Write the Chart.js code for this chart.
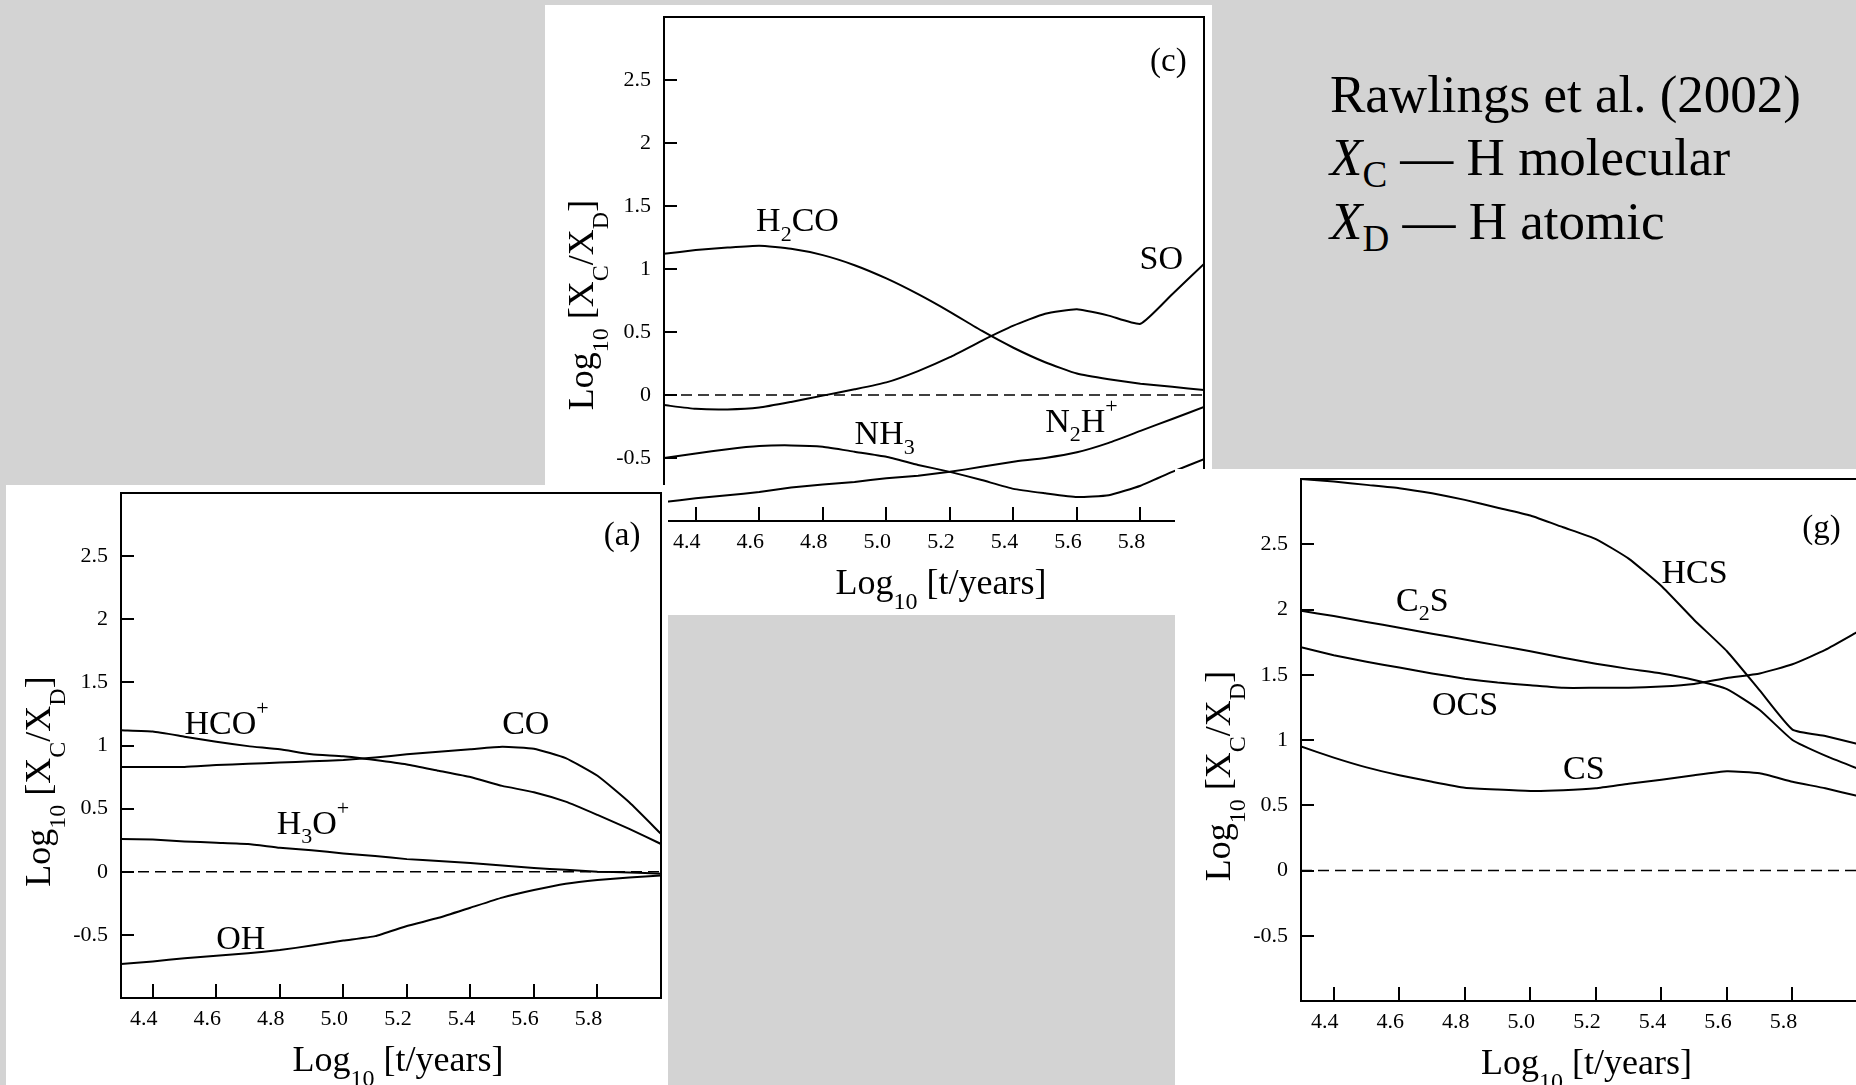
<!DOCTYPE html>
<html>
<head>
<meta charset="utf-8">
<script src="https://cdn.jsdelivr.net/npm/chart.js@4.4.1/dist/chart.umd.min.js"></script>
<style>
  html, body { margin: 0; padding: 0; }
  body {
    width: 1856px; height: 1085px; position: relative; overflow: hidden;
    background: #d3d3d3; font-family: "Liberation Serif", "Times New Roman", serif;
  }
  .panel { position: absolute; background: #fff; overflow: hidden; }
  .panel canvas { position: absolute; left: 0; top: 0; }
  #pc { left: 545px; top: 5px; width: 667px; height: 610px; z-index: 1; }
  #pa { left: 6px; top: 485px; width: 662px; height: 600px; z-index: 2; }
  #pg { left: 1175px; top: 469px; width: 681px; height: 616px; z-index: 2; }
  .note { position: absolute; left: 1330px; font-size: 53px; line-height: 53px; color: #000; white-space: nowrap; z-index: 3; }
  .note i { font-style: italic; }
  .note sub { font-size: 0.7em; vertical-align: baseline; position: relative; top: 0.32em; }
</style>
</head>
<body>
<div class="panel" id="pc"><canvas id="chart-c" width="667" height="610"></canvas></div>
<div class="panel" id="pa"><canvas id="chart-a" width="662" height="600"></canvas></div>
<div class="panel" id="pg"><canvas id="chart-g" width="700" height="616"></canvas></div>

<div class="note" style="top:68px">Rawlings et al. (2002)</div>
<div class="note" style="top:131px"><i>X</i><sub>C</sub> — H molecular</div>
<div class="note" style="top:195px"><i>X</i><sub>D</sub> — H atomic</div>

<script>
// Log10 of time in years, one point per 0.1 dex
const years = [4.3, 4.4, 4.5, 4.6, 4.7, 4.8, 4.9, 5.0, 5.1, 5.2, 5.3, 5.4, 5.5, 5.6, 5.7, 5.8, 5.9, 6.0];
const xTicks = [4.4, 4.6, 4.8, 5.0, 5.2, 5.4, 5.6, 5.8];
const yTicks = [-0.5, 0, 0.5, 1, 1.5, 2, 2.5];
const zeroX = [4.3, 6.0];
const zeroY = [0, 0];

// panel (a)
const hcoPlus = [1.12, 1.11, 1.07, 1.03, 0.995, 0.97, 0.93, 0.915, 0.885, 0.85, 0.80, 0.75, 0.68, 0.63, 0.555, 0.45, 0.34, 0.22];
const coA     = [0.83, 0.83, 0.83, 0.845, 0.855, 0.865, 0.875, 0.885, 0.905, 0.93, 0.95, 0.97, 0.99, 0.975, 0.90, 0.76, 0.55, 0.30];
const h3oPlus = [0.26, 0.255, 0.24, 0.23, 0.22, 0.19, 0.17, 0.145, 0.125, 0.10, 0.085, 0.07, 0.05, 0.03, 0.015, 0.0, -0.005, -0.015];
const ohA     = [-0.73, -0.71, -0.685, -0.665, -0.645, -0.62, -0.585, -0.545, -0.51, -0.43, -0.365, -0.285, -0.205, -0.145, -0.095, -0.065, -0.045, -0.03];

// panel (c)
const h2co    = [1.12, 1.15, 1.17, 1.185, 1.16, 1.11, 1.03, 0.925, 0.80, 0.66, 0.51, 0.375, 0.26, 0.17, 0.125, 0.09, 0.065, 0.04];
const soC     = [-0.08, -0.11, -0.115, -0.10, -0.055, -0.005, 0.045, 0.10, 0.19, 0.30, 0.43, 0.55, 0.645, 0.68, 0.63, 0.565, 0.80, 1.04];
const nh3     = [-0.50, -0.465, -0.43, -0.405, -0.40, -0.41, -0.45, -0.49, -0.555, -0.61, -0.675, -0.745, -0.78, -0.81, -0.795, -0.72, -0.61, -0.51];
const n2hPlus = [-0.85, -0.82, -0.795, -0.77, -0.735, -0.71, -0.69, -0.66, -0.64, -0.61, -0.57, -0.53, -0.50, -0.455, -0.38, -0.285, -0.19, -0.095];

// panel (g)
const hcs = [3.0, 2.98, 2.955, 2.93, 2.89, 2.84, 2.78, 2.72, 2.63, 2.54, 2.39, 2.18, 1.92, 1.68, 1.38, 1.08, 1.03, 0.97];
const c2s = [1.99, 1.95, 1.905, 1.86, 1.815, 1.77, 1.725, 1.68, 1.63, 1.585, 1.545, 1.51, 1.46, 1.39, 1.23, 1.00, 0.88, 0.78];
const ocs = [1.71, 1.65, 1.60, 1.555, 1.51, 1.47, 1.44, 1.42, 1.40, 1.40, 1.40, 1.41, 1.43, 1.475, 1.51, 1.58, 1.69, 1.83];
const csG = [0.95, 0.865, 0.79, 0.73, 0.68, 0.635, 0.62, 0.61, 0.615, 0.63, 0.665, 0.695, 0.73, 0.76, 0.745, 0.68, 0.63, 0.57];

const FONT = '"Liberation Serif", "Times New Roman", serif';
Chart.defaults.font.family = FONT;
Chart.defaults.color = '#000';

// "_x" / "_{xy}" = subscript, "^x" = superscript
function richParts(s) {
  const parts = [];
  let i = 0;
  while (i < s.length) {
    const c = s[i];
    if (c === '_' || c === '^') {
      let t;
      if (s[i + 1] === '{') { const j = s.indexOf('}', i); t = s.slice(i + 2, j); i = j + 1; }
      else { t = s[i + 1]; i += 2; }
      parts.push({ t, kind: c });
    } else {
      let j = i;
      while (j < s.length && s[j] !== '_' && s[j] !== '^') j++;
      parts.push({ t: s.slice(i, j), kind: '' });
      i = j;
    }
  }
  return parts;
}

function drawRich(ctx, s, x, y, size, align, subDy) {
  const small = Math.round(size * 0.66);
  const parts = richParts(s);
  const fontOf = (p) => `${p.kind ? small : size}px ${FONT}`;
  let w = 0;
  parts.forEach((p) => { ctx.font = fontOf(p); p.w = ctx.measureText(p.t).width; w += p.w; });
  let cx = align === 'center' ? x - w / 2 : x;
  ctx.textAlign = 'left';
  ctx.textBaseline = 'alphabetic';
  parts.forEach((p) => {
    ctx.font = fontOf(p);
    const dy = p.kind === '_' ? size * (subDy || 0.28) : p.kind === '^' ? -size * 0.55 : 0;
    ctx.fillText(p.t, cx, y + dy);
    cx += p.w;
  });
}

// box frame, inward ticks, axis titles, curve labels
const framePlugin = {
  id: 'frame',
  afterDatasetsDraw(chart, args, o) {
    const { ctx, chartArea: a, scales } = chart;
    ctx.save();
    ctx.strokeStyle = '#000';
    ctx.fillStyle = '#000';
    ctx.lineWidth = 2;
    ctx.strokeRect(a.left, a.top, a.right - a.left, a.bottom - a.top);
    ctx.beginPath();
    xTicks.forEach((v) => {
      const px = Math.round(scales.x.getPixelForValue(v));
      ctx.moveTo(px, a.bottom); ctx.lineTo(px, a.bottom - 14);
    });
    yTicks.forEach((v) => {
      const py = Math.round(scales.y.getPixelForValue(v));
      ctx.moveTo(a.left, py); ctx.lineTo(a.left + 13, py);
    });
    ctx.stroke();

    drawRich(ctx, 'Log_{10} [t/years]', (a.left + a.right) / 2 + 7, a.bottom + 73, 36, 'center', 0.42);
    ctx.save();
    ctx.translate(a.left - 71, (a.top + a.bottom) / 2 + 36);
    ctx.rotate(-Math.PI / 2);
    drawRich(ctx, 'Log_{10} [X_C/X_D]', 0, 0, 36, 'center', 0.42);
    ctx.restore();

    o.labels.forEach((l) => {
      drawRich(ctx, l.text, scales.x.getPixelForValue(l.x), scales.y.getPixelForValue(l.y), l.size || 34, 'left');
    });
    ctx.restore();
  },
};

function series(values) {
  return {
    data: years.map((x, i) => ({ x, y: values[i] })),
    borderColor: '#000', borderWidth: 2, pointRadius: 0, tension: 0.15, fill: false,
  };
}

function makePanel(id, lines, labels, box) {
  const zero = {
    data: zeroX.map((x, i) => ({ x, y: zeroY[i] })),
    borderColor: '#000', borderWidth: 1.6, borderDash: [11, 6], pointRadius: 0, fill: false,
  };
  return new Chart(document.getElementById(id), {
    type: 'line',
    data: { datasets: [zero, ...lines.map(series)] },
    options: {
      responsive: false, animation: false, events: [],
      layout: { padding: { left: 0, top: box.top, right: box.right, bottom: 0 } },
      plugins: {
        legend: { display: false }, tooltip: { enabled: false },
        frame: { labels },
      },
      scales: {
        x: {
          type: 'linear', min: 4.3, max: 6.0,
          afterBuildTicks: (s) => { s.ticks = xTicks.map((value) => ({ value })); },
          afterFit: (s) => { s.height = box.xHeight; s.paddingLeft = 0; s.paddingRight = 0; },
          grid: { display: false, drawTicks: false }, border: { display: false },
          ticks: { font: { size: 22 }, padding: 8, labelOffset: -9, maxRotation: 0, autoSkip: false, callback: (v) => v.toFixed(1) },
        },
        y: {
          type: 'linear', min: -1, max: 3,
          afterBuildTicks: (s) => { s.ticks = yTicks.map((value) => ({ value })); },
          afterFit: (s) => { s.width = box.yWidth; s.paddingTop = 0; s.paddingBottom = 0; },
          grid: { display: false, drawTicks: false }, border: { display: false },
          ticks: { font: { size: 22 }, padding: 13, autoSkip: false, callback: (v) => String(v) },
        },
      },
    },
    plugins: [framePlugin],
  });
}

makePanel('chart-c', [h2co, soC, nh3, n2hPlus], [
  { text: 'H_2CO', x: 4.59, y: 1.30 },
  { text: 'SO', x: 5.797, y: 1.0 },
  { text: 'NH_3', x: 4.90, y: -0.39 },
  { text: 'N_2H^+', x: 5.50, y: -0.29 },
  { text: '(c)', x: 5.83, y: 2.57, size: 33 },
], { top: 12, right: 8, xHeight: 94, yWidth: 119 });

makePanel('chart-a', [hcoPlus, coA, h3oPlus, ohA], [
  { text: 'HCO^+', x: 4.50, y: 1.09 },
  { text: 'CO', x: 5.50, y: 1.09 },
  { text: 'H_3O^+', x: 4.79, y: 0.30 },
  { text: 'OH', x: 4.60, y: -0.61 },
  { text: '(a)', x: 5.82, y: 2.59, size: 33 },
], { top: 8, right: 7, xHeight: 87, yWidth: 115 });

makePanel('chart-g', [hcs, c2s, ocs, csG], [
  { text: 'HCS', x: 5.40, y: 2.20 },
  { text: 'C_2S', x: 4.59, y: 1.99 },
  { text: 'OCS', x: 4.70, y: 1.19 },
  { text: 'CS', x: 5.10, y: 0.70 },
  { text: '(g)', x: 5.83, y: 2.55, size: 33 },
], { top: 10, right: 17, xHeight: 84, yWidth: 126 });
</script>
</body>
</html>
